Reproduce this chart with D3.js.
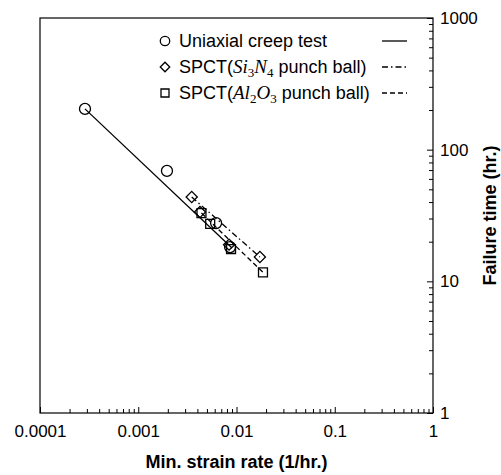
<!DOCTYPE html>
<html>
<head>
<meta charset="utf-8">
<script src="https://cdn.jsdelivr.net/npm/d3@7"></script>
<style>
  body { margin: 0; background: #fff; }
  text { font-family: "Liberation Sans", Arial, sans-serif; fill: #000; }
</style>
</head>
<body>
<svg id="chart" width="501" height="475"></svg>
<script>
// data
const uniaxialRate = [0.000287, 0.00196, 0.0062, 0.0086];
const uniaxialTime = [204, 69, 27.7, 18.2];
const si3n4Rate = [0.0035, 0.00425, 0.0084, 0.0173];
const si3n4Time = [43.7, 33.6, 19, 15.3];
const al2o3Rate = [0.0044, 0.0054, 0.0088, 0.0186];
const al2o3Time = [33, 27.3, 17.6, 11.7];

// fitted lines (end points)
const uniaxialFit = [[0.000287, 204], [0.009, 17.9]];
const si3n4Fit = [[0.0035, 43.7], [0.0173, 15.3]];
const al2o3Fit = [[0.0044, 33], [0.0186, 11.7]];

const xMajor = [0.0001, 0.001, 0.01, 0.1, 1];
const xLabels = ["0.0001", "0.001", "0.01", "0.1", "1"];
const yMajor = [1, 10, 100, 1000];
const yLabels = ["1", "10", "100", "1000"];

const svg = d3.select("#chart");
const mLeft = 40, mRight = 433, mTop = 18, mBottom = 413;

const x = d3.scaleLog().domain([1e-4, 1]).range([mLeft, mRight]);
const y = d3.scaleLog().domain([1, 1000]).range([mBottom, mTop]);

// minor ticks 2..9 inside each decade
function minors(decades) {
    const out = [];
    decades.slice(0, -1).forEach(d => {
        for (let k = 2; k <= 9; k++) out.push(d * k);
    });
    return out;
}

// bottom axis: minor ticks, then majors with labels
svg.append("g")
    .attr("transform", `translate(0,${mBottom})`)
    .call(d3.axisBottom(x).tickValues(minors(xMajor)).tickSize(-4).tickFormat(""))
    .call(g => g.select(".domain").remove());

svg.append("g")
    .attr("transform", `translate(0,${mBottom})`)
    .call(d3.axisBottom(x).tickValues(xMajor).tickSize(-6).tickPadding(12)
        .tickFormat((d, i) => xLabels[i]))
    .call(g => g.select(".domain").remove())
    .call(g => g.selectAll("text").style("font-size", "17px")
        .style("font-family", "'Liberation Sans', Arial, sans-serif"));

// right axis
svg.append("g")
    .attr("transform", `translate(${mRight},0)`)
    .call(d3.axisRight(y).tickValues(minors(yMajor)).tickSize(-4).tickFormat(""))
    .call(g => g.select(".domain").remove());

svg.append("g")
    .attr("transform", `translate(${mRight},0)`)
    .call(d3.axisRight(y).tickValues(yMajor).tickSize(-6).tickPadding(7)
        .tickFormat((d, i) => yLabels[i]))
    .call(g => g.select(".domain").remove())
    .call(g => g.selectAll("text").style("font-size", "17px")
        .style("font-family", "'Liberation Sans', Arial, sans-serif"));

svg.selectAll(".tick line").attr("stroke", "#000").attr("stroke-width", 1);

// frame
svg.append("rect")
    .attr("x", mLeft).attr("y", mTop)
    .attr("width", mRight - mLeft).attr("height", mBottom - mTop)
    .attr("fill", "none").attr("stroke", "#000").attr("stroke-width", 1.2);

// axis titles
svg.append("text")
    .attr("x", (mLeft + mRight) / 2).attr("y", 468)
    .attr("text-anchor", "middle")
    .style("font-size", "18px").style("font-weight", "bold")
    .text("Min. strain rate (1/hr.)");

svg.append("text")
    .attr("transform", `translate(496,${(mTop + mBottom) / 2}) rotate(-90)`)
    .attr("text-anchor", "middle")
    .style("font-size", "18px").style("font-weight", "bold")
    .text("Failure time (hr.)");

// lines
const line = d3.line().x(d => x(d[0])).y(d => y(d[1]));
const series = [
    { fit: uniaxialFit, dash: null },
    { fit: si3n4Fit, dash: "6,3,1.5,3" },
    { fit: al2o3Fit, dash: "5,3" }
];
series.forEach(s => {
    svg.append("path")
        .attr("d", line(s.fit))
        .attr("fill", "none")
        .attr("stroke", "#000")
        .attr("stroke-width", 1.3)
        .attr("stroke-dasharray", s.dash);
});

// markers
const circle = d3.symbol().type(d3.symbolCircle).size(95);
const diamond = d3.symbol().type(d3.symbolSquare).size(62);
const square = d3.symbol().type(d3.symbolSquare).size(80);

function drawPoints(rates, times, sym, rot) {
    svg.append("g").selectAll("path")
        .data(rates.map((r, i) => [r, times[i]]))
        .join("path")
        .attr("d", sym)
        .attr("transform", d => `translate(${x(d[0])},${y(d[1])}) rotate(${rot})`)
        .attr("fill", "none")
        .attr("stroke", "#000")
        .attr("stroke-width", 1.3);
}
drawPoints(uniaxialRate, uniaxialTime, circle, 0);
drawPoints(si3n4Rate, si3n4Time, diamond, 45);
drawPoints(al2o3Rate, al2o3Time, square, 0);

// legend; part kinds: n normal, i italic, s subscript
const legendCircle = d3.symbol().type(d3.symbolCircle).size(70);
const legendDiamond = d3.symbol().type(d3.symbolSquare).size(45);
const legendSquare = d3.symbol().type(d3.symbolSquare).size(64);
const legend = [
    { sym: legendCircle, rot: 0, dash: null, parts: [["Uniaxial creep test", "n"]] },
    { sym: legendDiamond, rot: 45, dash: "6,3,1.5,3",
      parts: [["SPCT(", "n"], ["Si", "i"], ["3", "s"], ["N", "i"], ["4", "s"], [" punch ball)", "n"]] },
    { sym: legendSquare, rot: 0, dash: "5,3",
      parts: [["SPCT(", "n"], ["Al", "i"], ["2", "s"], ["O", "i"], ["3", "s"], [" punch ball)", "n"]] }
];
legend.forEach((l, i) => {
    const ly = 41 + i * 26;
    svg.append("path")
        .attr("d", l.sym)
        .attr("transform", `translate(165,${ly}) rotate(${l.rot})`)
        .attr("fill", "none").attr("stroke", "#000").attr("stroke-width", 1.3);
    const t = svg.append("text")
        .attr("x", 179).attr("y", ly + 6)
        .style("font-size", "18px");
    let prev = "n";
    l.parts.forEach(p => {
        const ts = t.append("tspan").text(p[0]);
        if (p[1] === "i" || p[1] === "s") {
            ts.style("font-family", "'Liberation Serif', serif");
        }
        if (p[1] === "i") ts.style("font-style", "italic").style("font-size", "19px");
        if (p[1] === "s") ts.style("font-size", "13px").attr("dy", 4);
        else if (prev === "s") ts.attr("dy", -4);
        prev = p[1];
    });
    svg.append("line")
        .attr("x1", 382).attr("x2", 407)
        .attr("y1", ly).attr("y2", ly)
        .attr("stroke", "#000").attr("stroke-width", 1.3)
        .attr("stroke-dasharray", l.dash);
});
</script>
</body>
</html>
